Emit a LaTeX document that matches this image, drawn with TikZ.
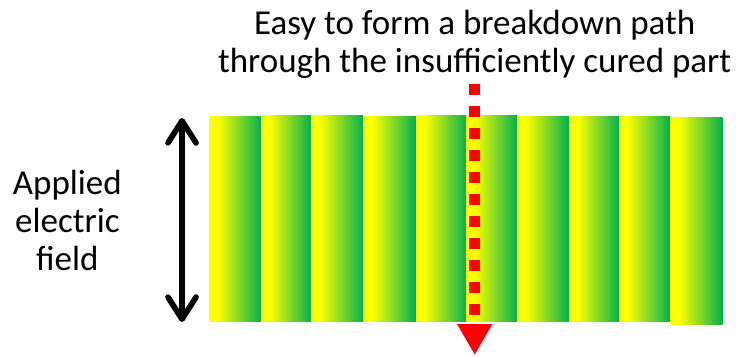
\documentclass[tikz,border=0pt]{standalone}
\usepackage{fontspec}
\setmainfont{Carlito}
\usetikzlibrary{positioning,arrows.meta}
\definecolor{curegreen}{RGB}{0,176,80}
\definecolor{pathred}{RGB}{255,0,0}
\pgfdeclarehorizontalshading{cured}{100bp}{color(0bp)=(yellow); color(33bp)=(yellow); color(75bp)=(curegreen); color(100bp)=(curegreen)}

\begin{document}
\begin{tikzpicture}[x=1pt, y=-1pt, inner sep=0pt,
    strip/.style={shading=cured},
    fieldarrow/.style={line width=5.7pt, {Straight Barb[round,length=22pt,width=28pt]}-{Straight Barb[round,length=22pt,width=28pt]}},
    breakdown/.style={pathred, line width=10.7pt, dash pattern=on 11pt off 11pt, -{Triangle[length=31pt,width=33pt]}},
    label/.style={font=\fontsize{35}{38}\selectfont, align=center}]
    \useasboundingbox (0,0) rectangle (736,356);
    % cured resin strips
    \foreach \xl/\xr/\yt/\yb in {209.5/261/116/321, 261.5/311/115/321, 311.5/363/115/321,
        363.5/416/116/321, 416.5/466.5/115/321, 466.5/517/115/321, 517.5/569/116.5/321.5,
        569.5/619/116/321.5, 619.5/670/116/321.5, 670.5/722.5/117.5/324}
      \shade[strip] (\xl,\yt) rectangle (\xr,\yb);
    % field arrow and label
    \coordinate (fieldtop) at (182,118);
    \coordinate (fieldbot) at (182,322);
    \coordinate (fieldmid) at (182,220);
    \draw[fieldarrow] (fieldtop) -- (fieldbot);
    \node[label, left=60pt of fieldmid] (fieldlabel) {Applied\\electric\\field};
    % breakdown path
    \coordinate (pathtop) at (474.7,84);
    \coordinate (pathbot) at (474.7,355);
    \draw[breakdown] (pathtop) -- (pathbot);
    \node[label, above=5pt of pathtop] (pathlabel) {Easy to form a breakdown path\\through the insufficiently cured part};
\end{tikzpicture}
\end{document}
